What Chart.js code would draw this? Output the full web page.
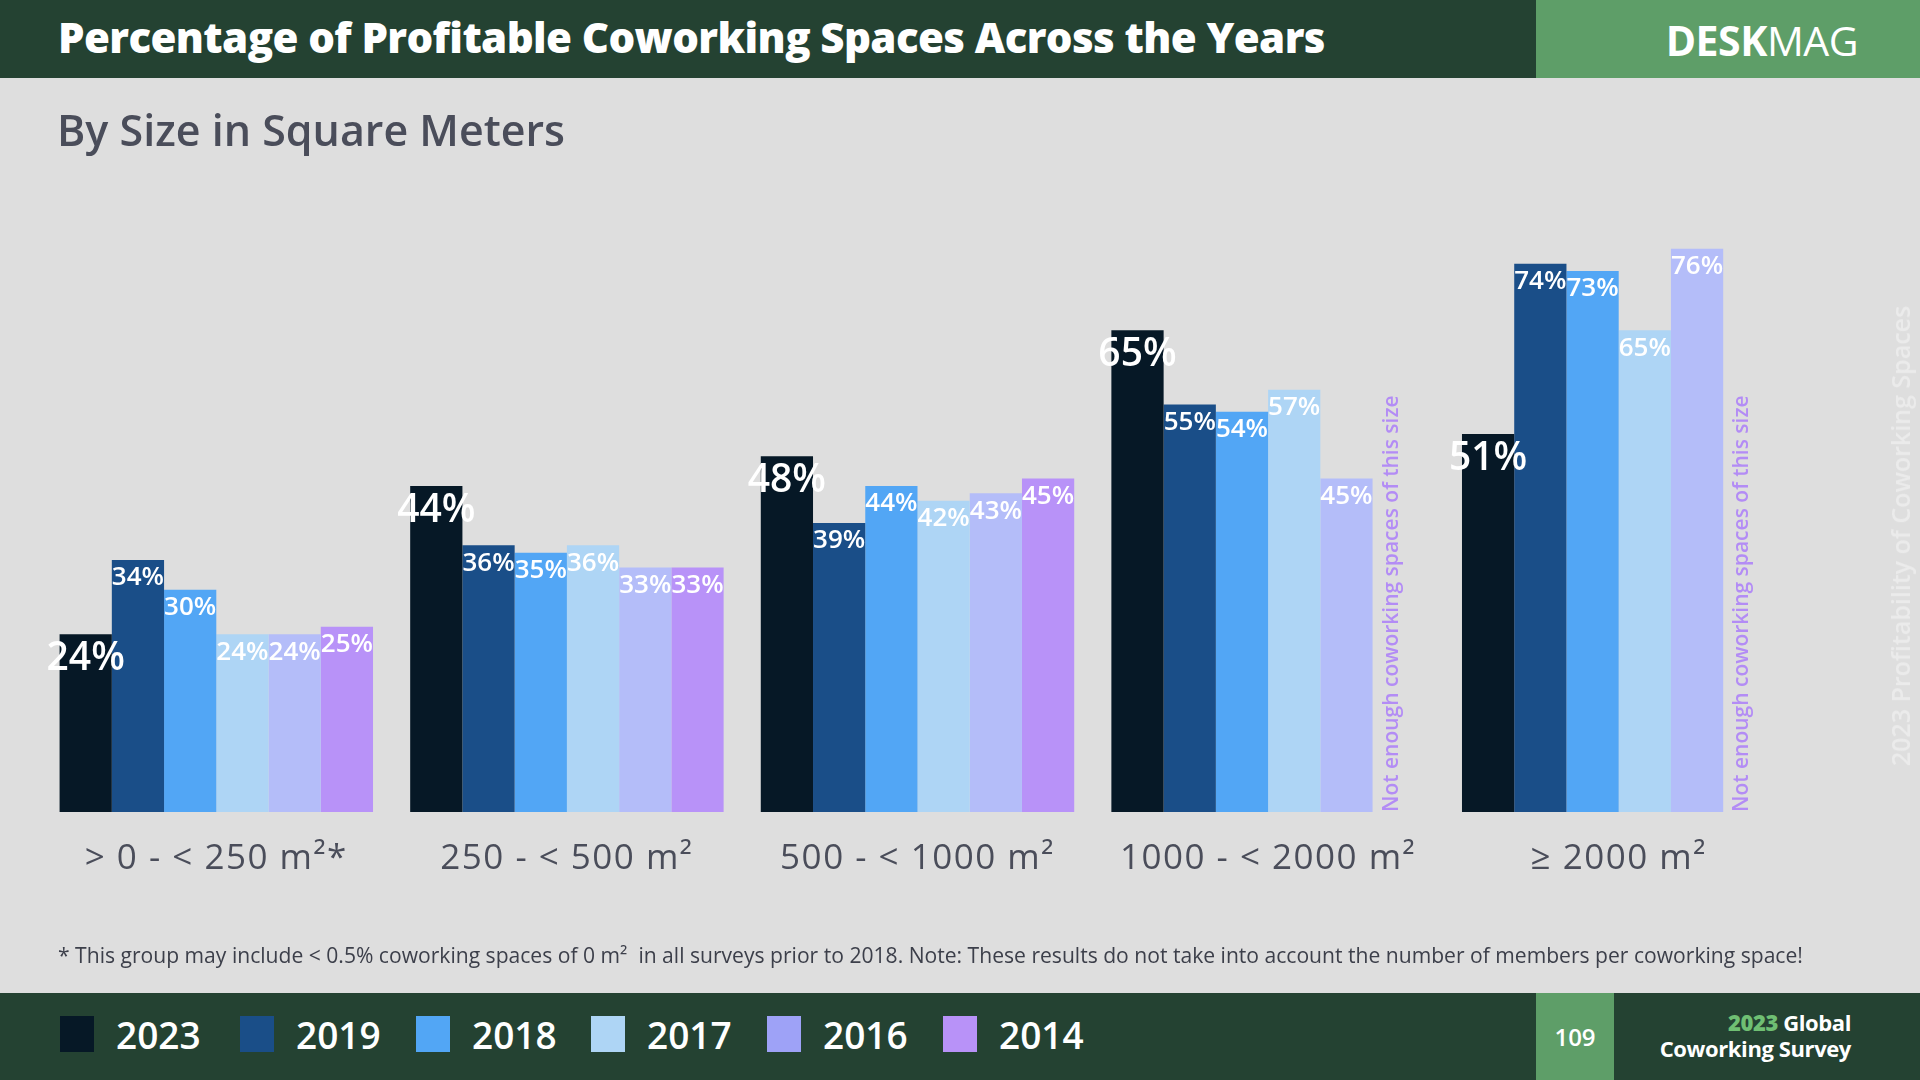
<!DOCTYPE html>
<html>
<head>
<meta charset="utf-8">
<script src="https://cdn.jsdelivr.net/npm/chart.js@4"></script>
<style>
    body { margin: 0; width: 1920px; height: 1080px; background: #dedede; overflow: hidden; position: relative; font-family: "Open Sans", sans-serif; }
    #chart { position: absolute; left: 0; top: 0; }
    .header { position: absolute; left: 0; top: 0; width: 1536px; height: 78px; background: #244232; }
    .header h1 { margin: 0; position: absolute; left: 58px; top: 8px; color: #fff; font-size: 42px; font-weight: 800; letter-spacing: -0.6px; }
    .brand { position: absolute; left: 1536px; top: 0; width: 384px; height: 78px; background: #5e9e68; color: #fff; }
    .brand span { position: absolute; right: 62px; top: 12px; font-size: 41px; letter-spacing: -0.5px; }
    .subtitle { position: absolute; left: 57px; top: 100px; color: #4a4d5a; font-size: 43px; font-weight: 600; }
    .side-note { position: absolute; left: 1900px; top: 536px; transform: translate(-50%, -50%) rotate(-90deg); white-space: nowrap; color: #ebebeb; font-size: 25px; font-weight: 600; }
    .footnote { position: absolute; left: 58px; top: 940px; color: #3c3f4a; font-size: 21.1px; font-weight: 500; white-space: nowrap; }
    .footer { position: absolute; left: 0; top: 993px; width: 1920px; height: 87px; background: #244232; }
    .legend-item { position: absolute; top: 23px; height: 36px; display: flex; align-items: center; color: #fff; font-size: 37px; font-weight: 600; }
    .legend-item i { display: inline-block; width: 34px; height: 36px; margin-right: 22px; }
    .page { position: absolute; left: 1536px; top: 0; width: 78px; height: 87px; background: #5e9e68; color: #fff; font-size: 24px; font-weight: 600; text-align: center; line-height: 87px; }
    .survey { position: absolute; right: 69px; top: 16px; color: #fff; text-align: right; font-size: 22px; font-weight: 700; line-height: 26px; letter-spacing: -0.4px; }
    .survey b { color: #6fbf73; }
</style>
</head>
<body>
<canvas id="chart" width="1920" height="1080"></canvas>
<div class="header"><h1>Percentage of Profitable Coworking Spaces Across the Years</h1></div>
<div class="brand"><span><b>DESK</b>MAG</span></div>
<div class="subtitle">By Size in Square Meters</div>
<div class="side-note">2023 Profitability of Coworking Spaces</div>
<div class="footnote">* This group may include &lt; 0.5% coworking spaces of 0 m²&nbsp; in all surveys prior to 2018. Note: These results do not take into account the number of members per coworking space!</div>
<div class="footer" id="footer">
    <div class="page">109</div>
    <div class="survey"><b>2023</b> Global<br>Coworking Survey</div>
</div>
<script>
const categories = ['> 0 - < 250 m²*', '250 - < 500 m²', '500 - < 1000 m²', '1000 - < 2000 m²', '≥ 2000 m²'];
const years = ['2023', '2019', '2018', '2017', '2016', '2014'];
const values2023 = [24, 44, 48, 65, 51];
const values2019 = [34, 36, 39, 55, 74];
const values2018 = [30, 35, 44, 54, 73];
const values2017 = [24, 36, 42, 57, 65];
const values2016 = [24, 33, 43, 45, 76];
const values2014 = [25, 33, 45, null, null];
const noDataNote = 'Not enough coworking spaces of this size';

const barColors = ['#061826', '#1a4e88', '#52a6f5', '#aed5f5', '#b4bdf9', '#b892f8'];
const legendColors = ['#061826', '#1a4e88', '#52a6f5', '#aed5f5', '#9ea2f7', '#b892f8'];
const series = [values2023, values2019, values2018, values2017, values2016, values2014];

// legend in the footer
const footer = document.getElementById('footer');
const legendX = [60, 240, 416, 591, 767, 943];
years.forEach((y, i) => {
    const d = document.createElement('div');
    d.className = 'legend-item';
    d.style.left = legendX[i] + 'px';
    d.innerHTML = `<i style="background:${legendColors[i]}"></i>${y}`;
    footer.appendChild(d);
});

const labelsPlugin = {
    id: 'labels',
    afterDatasetsDraw(chart) {
        const ctx = chart.ctx;
        ctx.save();
        ctx.textAlign = 'center';
        ctx.textBaseline = 'middle';
        chart.data.datasets.forEach((ds, di) => {
            const meta = chart.getDatasetMeta(di);
            meta.data.forEach((bar, i) => {
                if (ds.data[i] == null) return;
                ctx.fillStyle = '#fff';
                if (di === 0) {
                    ctx.font = '600 39px "Open Sans"';
                    ctx.fillText(ds.data[i] + '%', bar.x, bar.y + 25);
                } else {
                    ctx.font = '600 26px "Open Sans"';
                    ctx.fillText(ds.data[i] + '%', bar.x, bar.y + 18);
                }
            });
        });

        // category labels
        const x = chart.scales.x;
        const base = chart.chartArea.bottom;
        ctx.fillStyle = '#4a4d5a';
        ctx.font = '500 35px "Open Sans"';
        ctx.letterSpacing = '1.5px';
        categories.forEach((c, i) => ctx.fillText(c, x.getPixelForValue(i), base + 47));
        ctx.letterSpacing = '0px';

        // notes where 2014 has no data
        const prev = chart.getDatasetMeta(series.length - 2);
        values2014.forEach((v, i) => {
            if (v != null) return;
            const b = prev.data[i];
            ctx.save();
            ctx.translate(b.x + b.width / 2 + 19, base);
            ctx.rotate(-Math.PI / 2);
            ctx.textAlign = 'left';
            ctx.fillStyle = '#b38cf5';
            ctx.font = '600 21px "Open Sans"';
            ctx.fillText(noDataNote, 0, 0);
            ctx.restore();
        });
        ctx.restore();
    }
};

new Chart(document.getElementById('chart'), {
    type: 'bar',
    data: {
        labels: categories,
        datasets: years.map((y, i) => ({
            label: y,
            data: series[i],
            backgroundColor: barColors[i],
            borderWidth: 0,
            barPercentage: 1,
            categoryPercentage: 0.894
        }))
    },
    options: {
        responsive: false,
        animation: false,
        devicePixelRatio: 1,
        layout: { padding: { left: 41, right: 126, top: 71, bottom: 268 } },
        scales: {
            x: { display: false },
            y: { display: false, min: 0, max: 100 }
        },
        plugins: { legend: { display: false }, tooltip: { enabled: false } }
    },
    plugins: [labelsPlugin]
});
</script>
</body>
</html>
